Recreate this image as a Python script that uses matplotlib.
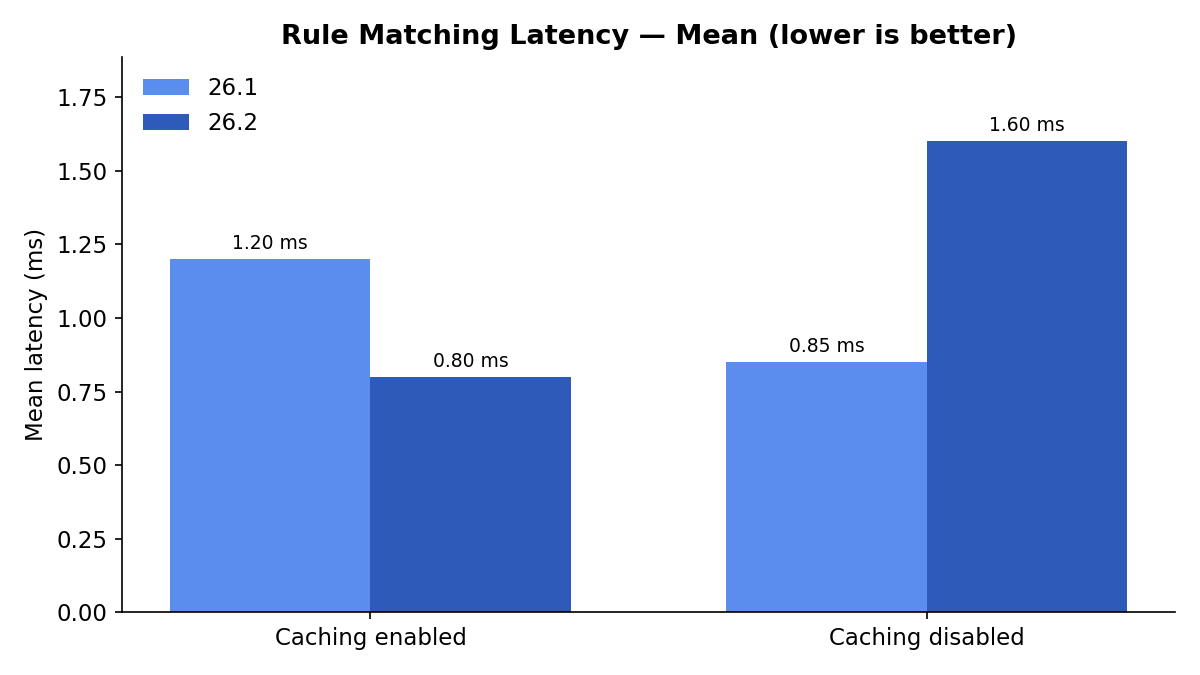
import matplotlib
matplotlib.use("Agg")
import matplotlib.pyplot as plt
import numpy as np

categories = ["Caching enabled", "Caching disabled"]
versions = ["26.1", "26.2"]
v261 = [1.20, 0.85]
v262 = [0.80, 1.60]
colors = ["#5B8DEF", "#2E5BBA"]

fig, ax = plt.subplots(figsize=(8, 4.5), dpi=150)
x = np.arange(len(categories))
width = 0.36

for i, (vals, name) in enumerate(zip([v261, v262], versions)):
    bars = ax.bar(x + (i - 0.5) * width, vals, width, label=name, color=colors[i])
    ax.bar_label(bars, labels=[f"{v:.2f} ms" for v in vals], padding=3, fontsize=9)

ax.set_xticks(x)
ax.set_xticklabels(categories)
ax.set_ylim(0, max(v261 + v262) * 1.18)
ax.set_ylabel("Mean latency (ms)", fontsize=11)
ax.set_title("Rule Matching Latency — Mean (lower is better)", fontsize=13, fontweight="bold")
ax.tick_params(labelsize=11)
ax.spines["top"].set_visible(False)
ax.spines["right"].set_visible(False)
ax.legend(frameon=False, fontsize=11, loc="upper left")

fig.subplots_adjust(left=0.102, right=0.979, top=0.916, bottom=0.093)
fig.savefig("out.png")
